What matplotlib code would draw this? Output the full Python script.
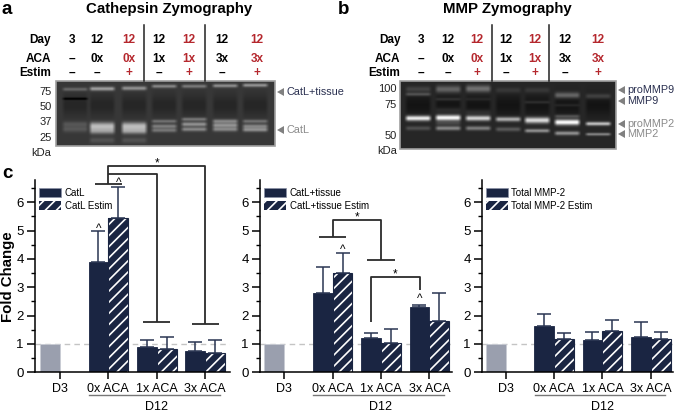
import numpy as np
import matplotlib
matplotlib.use("Agg")
import matplotlib.pyplot as plt
from matplotlib.patches import Patch, Polygon

# ---------- data ----------
groups = ["D3", "0x ACA", "1x ACA", "3x ACA"]
d3_value = [1]

catl = [3.9, 0.9, 0.75]
catl_estim = [5.45, 0.82, 0.68]
catl_err = [1.1, 0.23, 0.33]
catl_estim_err = [1.1, 0.43, 0.45]

tissue = [2.8, 1.22, 2.3]
tissue_estim = [3.5, 1.05, 1.8]
tissue_err = [0.9, 0.18, 0.08]
tissue_estim_err = [0.7, 0.48, 1.0]

mmp = [1.63, 1.13, 1.25]
mmp_estim = [1.17, 1.45, 1.17]
mmp_err = [0.42, 0.3, 0.53]
mmp_estim_err = [0.2, 0.4, 0.26]

day_row = ["3", "12", "12", "12", "12", "12", "12"]
aca_row = ["–", "0x", "0x", "1x", "1x", "3x", "3x"]
estim_row = ["–", "–", "+", "–", "+", "–", "+"]
row_colors = ["k", "k", "#b5282e", "k", "#b5282e", "k", "#b5282e"]

# gel bands per lane: (y, brightness, thickness)
gel_a_bands = [
    [(89, .2, 1.2), (98.5, -.2, .8), (124, .12, 2), (129, .12, 2)],
    [(88.5, .42, 1.4), (124, .25, 2), (127, .4, 2.2), (131, .33, 2), (140, .1, 2)],
    [(88, .36, 1.4), (124, .25, 2), (127, .4, 2.2), (131, .36, 2), (140, .1, 2)],
    [(86, .32, 1.2), (121, .24, 1.2), (126, .28, 1.4), (130, .25, 1.4)],
    [(86, .27, 1.2), (119, .27, 1.2), (124, .36, 1.5), (129, .32, 1.4)],
    [(85.5, .35, 1.2), (121, .32, 1.4), (125, .36, 1.5), (129, .32, 1.5)],
    [(85, .37, 1.2), (121, .24, 1.2), (126, .3, 1.5), (129.5, .34, 1.4)],
]
gel_b_bands = [
    [(89, .12, 2), (94, .2, 1.2), (118, .8, 1.8), (128, .16, 1.5)],
    [(89, .25, 2.5), (99, .1, 1), (110, .08, 2), (117.5, .85, 2), (123, .12, 1.5), (128, .38, 1.5)],
    [(88.5, .3, 2.5), (99, .06, 1), (112, .08, 2), (118, .7, 1.8), (128, .34, 1.5)],
    [(90, .08, 2), (119, .55, 1.6), (129, .2, 1.5)],
    [(90, .08, 2), (102, .1, 1), (120, .72, 2.1), (130.5, .42, 1.3)],
    [(95, .28, 2.1), (105, .07, 1), (116, .2, 1.2), (122, .85, 2), (133, .42, 1.4)],
    [(96, .14, 1.8), (123.5, .62, 1.3), (134, .38, 1)],
]
# --------------------------

W, H = 675, 413
NAVY = "#1a2542"
GREY = "#9a9fae"

plt.rcParams["font.family"] = ["Liberation Sans", "DejaVu Sans"]
plt.rcParams["hatch.linewidth"] = 1.2

fig = plt.figure(figsize=(W / 100, H / 100), dpi=100)
over = fig.add_axes([0, 0, 1, 1], zorder=5)
over.patch.set_alpha(0)
over.axis("off")


def draw_gel(box, lanes, bands, base, lane_w):
    x0, x1, y0, y1 = box
    xs = np.arange(x0, x1, 0.5)
    ys = np.arange(y0, y1, 0.5)
    img = np.full((len(ys), len(xs)), base, dtype=float)
    for cx, lane in zip(lanes, bands):
        window = np.clip((lane_w / 2 - np.abs(xs - cx)) / 4, 0, 1)
        img -= 0.07 * np.outer(np.exp(-((ys - (y0 + 24)) / 11) ** 2), window)
        for y, amp, s in lane:
            img += amp * np.outer(np.exp(-((ys - y) / (s * 1.4)) ** 2), window)
    over.imshow(np.clip(img, 0, 1), cmap="gray", vmin=0, vmax=1, aspect="auto",
                extent=(x0, x1, y1, y0), interpolation="bilinear", zorder=1)
    over.add_patch(plt.Rectangle((x0, y0), x1 - x0, y1 - y0, fill=False, ec="#a0a0a0", lw=1.2, zorder=2))


def header(cols, right, seps):
    for y, label, row in [(40, "Day", day_row), (59, "ACA", aca_row), (73, "Estim", estim_row)]:
        over.text(right, y, label, ha="right", va="center", fontsize=8.5, fontweight="bold")
        for x, t, c in zip(cols, row, row_colors):
            over.text(x, y, t, ha="center", va="center", fontsize=8.5, fontweight="bold", color=c)
    for x in seps:
        over.plot([x, x], [25, 81], color="#222222", lw=1.1, zorder=3)


def marker(x, y, text, color, tri="#808080"):
    over.add_patch(Polygon([[x, y], [x + 7, y - 4], [x + 7, y + 4]], color=tri, lw=0))
    over.text(x + 9.5, y, text, ha="left", va="center", fontsize=7.8, color=color)


# panel a
draw_gel((56, 275, 81, 146), [75, 102, 134, 164, 194, 225, 255], gel_a_bands, 0.22, 28)
header([72, 97, 129, 159, 189, 222, 257], 51, [144, 205])
for y, t in [(92, "75"), (107, "50"), (122, "37"), (138, "25"), (153, "kDa")]:
    over.text(51.5, y, t, ha="right", va="center", fontsize=8, color="#222222")
marker(277, 92, "CatL+tissue", "#2a3050")
marker(277, 130, "CatL", "#8a8a8a")
over.text(169, 9.5, "Cathepsin Zymography", ha="center", va="center", fontsize=10.8, fontweight="bold")
over.text(2, 9, "a", ha="left", va="center", fontsize=13.5, fontweight="bold")

# panel b
draw_gel((400, 616, 81, 149), [418, 448, 478, 508, 537, 567, 598], gel_b_bands, 0.15, 28)
header([421, 448, 477, 506, 535, 565, 598], 400.5, [491.7, 549.3])
for y, t in [(89, "100"), (105, "75"), (136, "50"), (151, "kDa")]:
    over.text(397, y, t, ha="right", va="center", fontsize=8, color="#222222")
marker(618, 90, "proMMP9", "#2a3050")
marker(618, 101, "MMP9", "#2a3050")
marker(618, 124, "proMMP2", "#8a8a8a")
marker(618, 134, "MMP2", "#8a8a8a")
over.text(507, 9.5, "MMP Zymography", ha="center", va="center", fontsize=10.8, fontweight="bold")
over.text(338, 9, "b", ha="left", va="center", fontsize=13.5, fontweight="bold")

over.text(2, 173, "c", ha="left", va="center", fontsize=13.5, fontweight="bold")
over.text(8, 277, "Fold Change", rotation=90, ha="center", va="center", fontsize=10.8, fontweight="bold")
over.set_xlim(0, W)
over.set_ylim(H, 0)


def bar_panel(spine_x, first_tick, right, vals, vals_e, err, err_e, names):
    step = 48.35
    y0, ytop = 372.3, 180
    ax = fig.add_axes([spine_x / W, 1 - y0 / H, (right - spine_x) / W, (y0 - ytop) / H])
    ax.patch.set_alpha(0)
    ax.set_xlim((spine_x - first_tick) / step, (right - first_tick) / step)
    ax.set_ylim(0, (y0 - ytop) / 28.33)
    pos = np.arange(1, 4)
    w = 0.41
    ax.axhline(1, color="#c4c4c4", lw=1, ls=(0, (4, 3)), zorder=1)
    ax.bar([-0.205], d3_value, w, color=GREY, edgecolor="#c9ccd4", lw=0.6, zorder=2)
    ax.bar(pos - 0.205, vals, w, color=NAVY, edgecolor=NAVY, lw=0.6, zorder=2)
    ax.bar(pos + 0.205, vals_e, w, color=NAVY, edgecolor="white", hatch="///", lw=0, zorder=2)
    ax.bar(pos + 0.205, vals_e, w, fill=False, edgecolor=NAVY, lw=0.8, zorder=2.1)
    for xs, v, e in [(pos - 0.205, vals, err), (pos + 0.205, vals_e, err_e)]:
        ax.errorbar(xs, v, yerr=[np.zeros(3), e], fmt="none", ecolor="#2a3552", elinewidth=1.1,
                    capsize=5, capthick=1.1, zorder=3)
    for s in ["top", "right"]:
        ax.spines[s].set_visible(False)
    for s in ["left", "bottom"]:
        ax.spines[s].set_linewidth(1.1)
    ax.set_yticks(range(7))
    ax.set_yticks(np.arange(0.5, 6.6, 1), minor=True)
    ax.tick_params(axis="y", which="major", length=6, width=1.1, labelsize=9.5, pad=2)
    ax.tick_params(axis="y", which="minor", length=3, width=1)
    ax.set_xticks(range(4), groups)
    ax.tick_params(axis="x", length=5, width=1.1, labelsize=9, pad=3)
    ax.plot([0.6, 3.3], [-0.8, -0.8], color="#777777", lw=1, clip_on=False)
    ax.text(2, -1.22, "D12", ha="center", va="center", fontsize=9)
    handles = [Patch(facecolor=NAVY, edgecolor="#8a90a5", lw=0.5, label=names[0]),
               Patch(facecolor=NAVY, edgecolor="white", hatch="///", lw=0, label=names[1])]
    ax.legend(handles=handles, loc="upper left", bbox_to_anchor=(0.01, 0.97), borderaxespad=0,
              frameon=False, fontsize=7, handlelength=2.3, handleheight=1.05, handletextpad=0.35,
              labelspacing=0.35, borderpad=0.2)
    return ax


def line(ax, xs, ys, lw=1.3):
    ax.plot(xs, ys, color="#2b2b2b", lw=lw, clip_on=False, zorder=4, solid_capstyle="butt")


def note(ax, x, y, t="*"):
    ax.text(x, y, t, ha="center", va="center", fontsize=8.5, clip_on=False, zorder=4)


ax1 = bar_panel(35, 60, 230, catl, catl_estim, catl_err, catl_estim_err, ["CatL", "CatL Estim"])
line(ax1, [0.72, 1.28], [6.65, 6.65])
line(ax1, [1, 1, 3, 3], [6.65, 7.29, 7.29, 1.71])
line(ax1, [1, 2, 2], [7.0, 7.0, 1.79])
line(ax1, [1.72, 2.28], [1.79, 1.79])
line(ax1, [2.72, 3.28], [1.71, 1.71])
note(ax1, 2, 7.36)
note(ax1, 0.81, 5.05, "^")
note(ax1, 1.21, 6.68, "^")

ax2 = bar_panel(260, 284.3, 452, tissue, tissue_estim, tissue_err, tissue_estim_err,
                ["CatL+tissue", "CatL+tissue Estim"])
line(ax2, [0.72, 1.28], [4.79, 4.79])
line(ax2, [1, 1, 2, 2], [4.79, 5.38, 5.38, 3.98])
line(ax2, [1.72, 2.28], [3.98, 3.98])
line(ax2, [1.8, 1.8, 2.8, 2.8], [1.76, 3.38, 3.38, 2.9])
note(ax2, 1.5, 5.47)
note(ax2, 2.3, 3.47)
note(ax2, 1.2, 4.33, "^")
note(ax2, 2.8, 2.58, "^")

ax3 = bar_panel(481.7, 505.7, 673, mmp, mmp_estim, mmp_err, mmp_estim_err,
                ["Total MMP-2", "Total MMP-2 Estim"])

fig.savefig("out.png", dpi=100)
